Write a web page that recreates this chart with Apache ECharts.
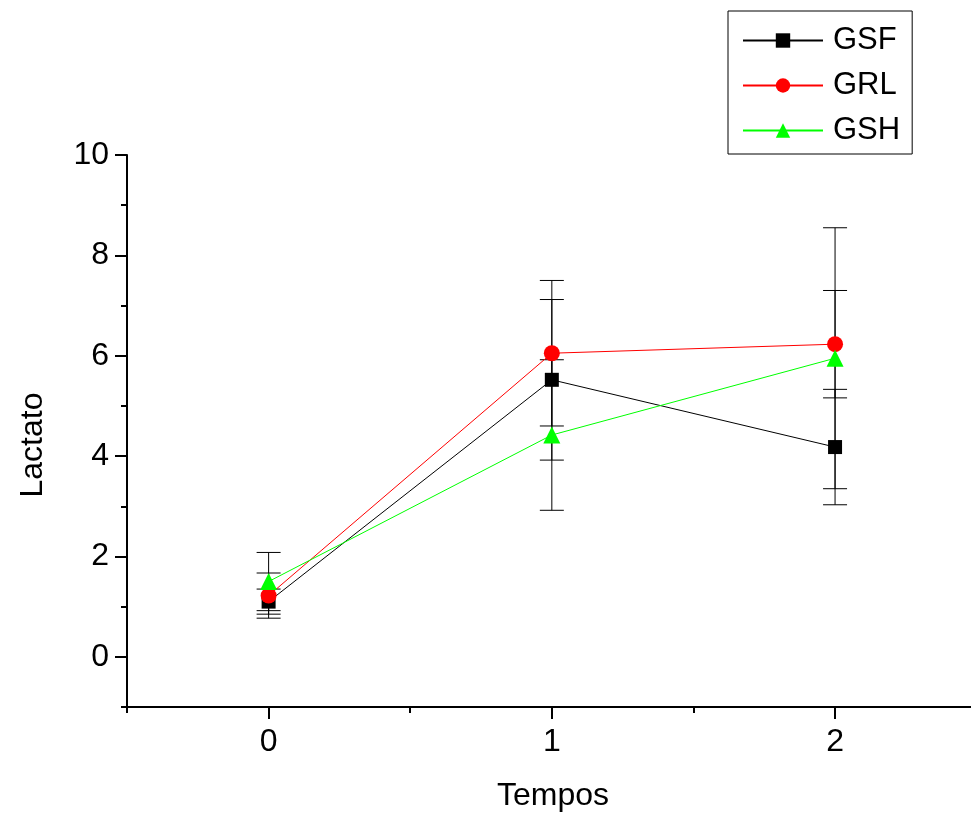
<!DOCTYPE html>
<html>
<head>
<meta charset="utf-8">
<script src="https://cdn.jsdelivr.net/npm/echarts@6/dist/echarts.min.js"></script>
<style>html,body{margin:0;padding:0;background:#fff}#c{width:971px;height:815px}</style>
</head>
<body>
<div id="c"></div>
<script>
// ---- data ----
var times = [0, 1, 2];
var xTickValues = [0, 1, 2];
var xMinorTickValues = [-0.5, 0.5, 1.5];
var yTickValues = [0, 2, 4, 6, 8, 10];
var yMinorTickValues = [-1, 1, 3, 5, 7, 9];

var gsf = [1.10, 5.52, 4.18];
var gsfErr = [0.25, 1.60, 1.15];
var grl = [1.22, 6.05, 6.23];
var grlErr = [0.45, 1.45, 1.07];
var gsh = [1.50, 4.42, 5.95];
var gshErr = [0.58, 1.50, 2.60];

var FONT = '"Liberation Sans", Arial, Helvetica, sans-serif';

function pts(vals) { return times.map(function (t, i) { return [t, vals[i]]; }); }
function errData(vals, errs) {
  return times.map(function (t, i) { return [t, vals[i] - errs[i], vals[i] + errs[i]]; });
}
function errSeries(name, vals, errs) {
  return {
    type: 'custom',
    name: name + ' err',
    xAxisIndex: 0, yAxisIndex: 0,
    z: 1,
    silent: true,
    data: errData(vals, errs),
    renderItem: function (params, api) {
      var x = api.value(0);
      var lo = api.coord([x, api.value(1)]);
      var hi = api.coord([x, api.value(2)]);
      var hw = 12;
      var st = { stroke: '#000', lineWidth: 1 };
      return {
        type: 'group',
        children: [
          { type: 'line', shape: { x1: lo[0], y1: lo[1], x2: hi[0], y2: hi[1] }, style: st },
          { type: 'line', shape: { x1: lo[0] - hw, y1: lo[1], x2: lo[0] + hw, y2: lo[1] }, style: st },
          { type: 'line', shape: { x1: hi[0] - hw, y1: hi[1], x2: hi[0] + hw, y2: hi[1] }, style: st }
        ]
      };
    }
  };
}
function lineSeries(name, vals, color, symbol, size) {
  return {
    type: 'line', name: name,
    xAxisIndex: 0, yAxisIndex: 0,
    z: 3,
    data: pts(vals),
    symbol: symbol, symbolSize: size,
    showAllSymbol: true,
    itemStyle: { color: color, borderWidth: 0 },
    lineStyle: { color: color, width: 1 },
    emphasis: { disabled: true },
    animation: false
  };
}

var chart = echarts.init(document.getElementById('c'), null, { renderer: 'canvas' });
chart.setOption({
  animation: false,
  backgroundColor: '#fff',
  grid: { left: 127, top: 155, right: 0, bottom: 108, containLabel: false, outerBoundsMode: 'none' },
  legend: {
    orient: 'vertical',
    left: 728, top: 11,
    padding: [14, 12, 8, 14],
    borderColor: '#000', borderWidth: 1,
    itemWidth: 80, itemHeight: 18, itemGap: 14,
    data: ['GSF', 'GRL', 'GSH'],
    textStyle: { fontFamily: FONT, fontSize: 31, color: '#000', lineHeight: 30, padding: [0, 0, 0, 5] }
  },
  xAxis: [{
    type: 'value', min: -0.5, max: 2.48,
    name: 'Tempos', nameLocation: 'middle', nameGap: 73,
    nameTextStyle: { fontFamily: FONT, fontSize: 32, color: '#000', padding: [0, 0, 0, 8] },
    axisLine: { show: true, onZero: false, lineStyle: { color: '#000', width: 2 } },
    axisTick: { show: true, length: 12, inside: false, customValues: xTickValues, lineStyle: { color: '#000', width: 2 } },
    axisLabel: { customValues: xTickValues, fontFamily: FONT, fontSize: 32, color: '#000', margin: 19 },
    splitLine: { show: false }
  }, {
    type: 'value', min: -0.5, max: 2.48, position: 'bottom',
    axisLine: { show: false, onZero: false },
    axisTick: { show: true, length: 6, customValues: xMinorTickValues, lineStyle: { color: '#000', width: 2 } },
    axisLabel: { show: false },
    splitLine: { show: false }
  }],
  yAxis: [{
    type: 'value', min: -1, max: 10,
    name: 'Lactato', nameLocation: 'middle', nameGap: 78, nameRotate: 90,
    nameTextStyle: { fontFamily: FONT, fontSize: 32, color: '#000', padding: [0, 28, 0, 0] },
    axisLine: { show: true, onZero: false, lineStyle: { color: '#000', width: 2 } },
    axisTick: { show: true, length: 12, customValues: yTickValues, lineStyle: { color: '#000', width: 2 } },
    axisLabel: { customValues: yTickValues, fontFamily: FONT, fontSize: 32, color: '#000', margin: 18 },
    splitLine: { show: false }
  }, {
    type: 'value', min: -1, max: 10, position: 'left',
    axisLine: { show: false, onZero: false },
    axisTick: { show: true, length: 6, customValues: yMinorTickValues, lineStyle: { color: '#000', width: 2 } },
    axisLabel: { show: false },
    splitLine: { show: false }
  }],
  series: [
    errSeries('GSF', gsf, gsfErr),
    errSeries('GRL', grl, grlErr),
    errSeries('GSH', gsh, gshErr),
    lineSeries('GSF', gsf, '#000000', 'rect', 14),
    lineSeries('GRL', grl, '#ff0000', 'circle', 16),
    lineSeries('GSH', gsh, '#00ff00', 'triangle', 17)
  ]
});
</script>
</body>
</html>
